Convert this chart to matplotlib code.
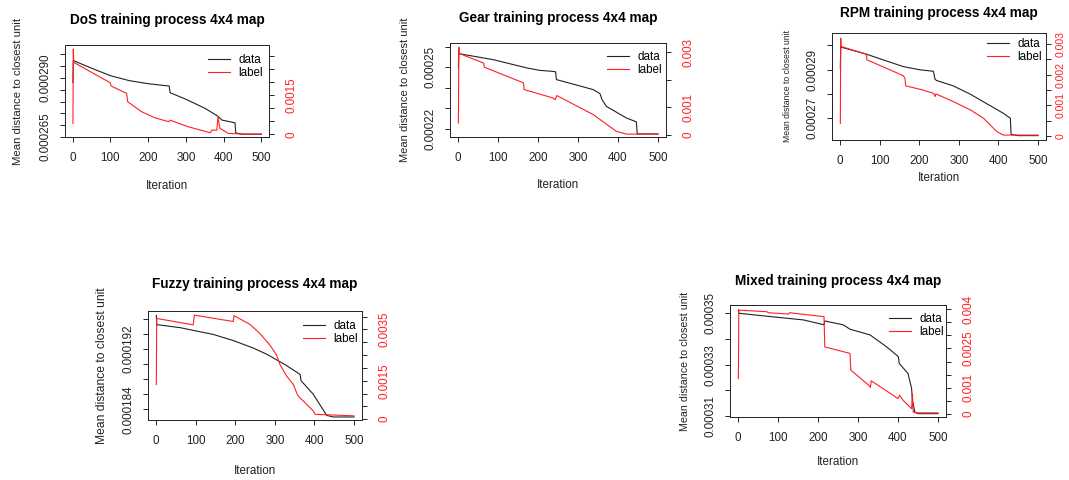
import matplotlib
matplotlib.use("Agg")
import matplotlib.pyplot as plt

plt.rcParams['font.family'] = ['Liberation Sans', 'DejaVu Sans']

W, H = 1069, 480

# ---------------- data ----------------
titles = ["DoS training process 4x4 map", "Gear training process 4x4 map",
          "RPM training process 4x4 map", "Fuzzy training process 4x4 map",
          "Mixed training process 4x4 map"]
legend_labels = ["data", "label"]
xlabel = "Iteration"
ylabel = "Mean distance to closest unit"
x_ticks = [0, 100, 200, 300, 400, 500]

# DoS
dos_data_it = [1, 2, 50, 100, 150, 200, 256, 258, 300, 350, 385, 395, 430, 432, 450, 500]
dos_data_val = [0.0002881, 0.0002974, 0.0002942, 0.0002910, 0.0002889, 0.0002876, 0.0002866,
                0.0002838, 0.0002810, 0.0002772, 0.0002738, 0.0002722, 0.0002710, 0.0002667,
                0.0002662, 0.0002662]
dos_label_it = [1, 2, 3, 100, 102, 143, 146, 183, 218, 255, 258, 306, 365, 368, 382, 385,
                390, 412, 450, 500]
dos_label_val = [0.00042, 0.00324, 0.00274, 0.00196, 0.00184, 0.00156, 0.00124, 0.00086,
                 0.00063, 0.00048, 0.00054, 0.00029, 0.00006, 0.00016, 0.00016, 0.00067,
                 0.00023, 0.00004, 0.00001, 0.00001]
dos_left_ticks = [0.000265, 0.000270, 0.000275, 0.000280, 0.000285, 0.000290, 0.000295, 0.000300]
dos_left_labels = ["0.000265", "", "", "", "", "0.000290", "", ""]
dos_right_ticks = [0, 0.0005, 0.001, 0.0015, 0.002, 0.0025, 0.003]
dos_right_labels = ["0", "", "", "0.0015", "", "", ""]

# Gear
gear_data_it = [1, 2, 89, 172, 205, 238, 244, 246, 338, 355, 360, 371, 421, 446, 448, 500]
gear_data_val = [0.0002497, 0.0002567, 0.0002537, 0.0002497, 0.0002485, 0.0002480, 0.0002478,
                 0.0002440, 0.0002391, 0.0002371, 0.0002342, 0.0002309, 0.0002252, 0.0002233,
                 0.0002174, 0.0002174]
gear_label_it = [1, 2, 3, 64, 66, 164, 165, 238, 243, 247, 338, 396, 421, 500]
gear_label_val = [0.00042, 0.00318, 0.00295, 0.00260, 0.00245, 0.00188, 0.00164, 0.00133,
                  0.00127, 0.00142, 0.00073, 0.00012, 0.00002, 0.00002]
gear_left_ticks = [0.00022, 0.00023, 0.00024, 0.00025, 0.00026]
gear_left_labels = ["0.00022", "", "", "0.00025", ""]
gear_right_ticks = [0, 0.001, 0.002, 0.003]
gear_right_labels = ["0", "0.001", "", "0.003"]

# RPM
rpm_data_it = [1, 2, 3, 67, 160, 202, 236, 240, 244, 286, 329, 413, 430, 432, 450, 500]
rpm_data_val = [0.0002905, 0.0002995, 0.0002992, 0.0002963, 0.0002912, 0.0002899, 0.0002893,
                0.0002860, 0.0002855, 0.0002833, 0.0002799, 0.0002720, 0.0002700, 0.0002634,
                0.0002629, 0.0002629]
rpm_label_it = [1, 2, 3, 67, 68, 160, 164, 166, 202, 236, 240, 242, 286, 329, 362, 396, 413, 500]
rpm_label_val = [0.00041, 0.00318, 0.00291, 0.00266, 0.00248, 0.00196, 0.00188, 0.00163,
                 0.00152, 0.00139, 0.00128, 0.00137, 0.00112, 0.00085, 0.00058, 0.00014,
                 0.00003, 0.00003]
rpm_left_ticks = [0.00027, 0.00028, 0.00029, 0.00030]
rpm_left_labels = ["0.00027", "", "0.00029", ""]
rpm_right_ticks = [0, 0.0005, 0.001, 0.0015, 0.002, 0.0025, 0.003]
rpm_right_labels = ["0", "", "0.001", "", "0.002", "", "0.003"]

# Fuzzy
fuzzy_data_it = [1, 2, 61, 98, 145, 195, 246, 279, 313, 326, 347, 364, 366, 380, 397, 414,
                 431, 448, 500]
fuzzy_data_val = [0.0001964, 0.0001952, 0.0001948, 0.0001944, 0.0001939, 0.0001931, 0.0001921,
                  0.0001913, 0.0001903, 0.0001899, 0.0001892, 0.0001886, 0.0001878, 0.0001870,
                  0.0001860, 0.0001846, 0.0001832, 0.0001830, 0.0001830]
fuzzy_label_it = [1, 2, 94, 97, 195, 197, 237, 262, 287, 304, 313, 330, 347, 355, 359, 372,
                  397, 402, 439, 500]
fuzzy_label_val = [0.00135, 0.00393, 0.00368, 0.00406, 0.00381, 0.00404, 0.00370, 0.00335,
                   0.00290, 0.00252, 0.00213, 0.00168, 0.00135, 0.00103, 0.00090, 0.00071,
                   0.00032, 0.00019, 0.00017, 0.00013]
fuzzy_left_ticks = [0.000184, 0.000186, 0.000188, 0.000190, 0.000192, 0.000194, 0.000196]
fuzzy_left_labels = ["0.000184", "", "", "", "0.000192", "", ""]
fuzzy_right_ticks = [0, 0.0005, 0.001, 0.0015, 0.002, 0.0025, 0.003, 0.0035, 0.004]
fuzzy_right_labels = ["0", "", "", "0.0015", "", "", "", "0.0035", ""]

# Mixed
mixed_data_it = [1, 2, 81, 164, 215, 217, 263, 280, 330, 371, 396, 401, 403, 425, 429, 434,
                 436, 442, 450, 500]
mixed_data_val = [0.0003513, 0.0003500, 0.0003487, 0.0003474, 0.0003455, 0.0003470, 0.0003455,
                  0.0003438, 0.0003416, 0.0003370, 0.0003338, 0.0003331, 0.0003305, 0.0003266,
                  0.0003240, 0.0003208, 0.0003162, 0.0003117, 0.0003110, 0.0003110]
mixed_label_it = [1, 2, 72, 76, 126, 129, 215, 217, 280, 282, 330, 331, 333, 400, 404, 413,
                  434, 436, 438, 446, 500]
mixed_label_val = [0.00135, 0.00397, 0.00391, 0.00387, 0.00382, 0.00387, 0.00372, 0.00256,
                   0.00231, 0.00167, 0.00105, 0.00100, 0.00126, 0.00058, 0.00071, 0.00051,
                   0.00019, 0.00077, 0.00006, 0.00003, 0.00003]
mixed_left_ticks = [0.00031, 0.00032, 0.00033, 0.00034, 0.00035]
mixed_left_labels = ["0.00031", "", "0.00033", "", "0.00035"]
mixed_right_ticks = [0, 0.0005, 0.001, 0.0015, 0.002, 0.0025, 0.003, 0.0035, 0.004]
mixed_right_labels = ["0", "", "0.001", "", "", "0.0025", "", "", "0.004"]

# ---------------- layout (pixels) ----------------
panels = [
    dict(title=titles[0], data=(dos_data_it, dos_data_val), label=(dos_label_it, dos_label_val),
         lt=(dos_left_ticks, dos_left_labels), rt=(dos_right_ticks, dos_right_labels),
         box=(65, 269, 45, 137), ylim_l=(0.000265, 0.000304), ylim_r=(-0.0001, 0.0034),
         title_y=20, xlab_y=186, ylab_x=18, ylab_fs=8.2, leg=(208, 54), rpad=8, rfs=8.4),
    dict(title=titles[1], data=(gear_data_it, gear_data_val), label=(gear_label_it, gear_label_val),
         lt=(gear_left_ticks, gear_left_labels), rt=(gear_right_ticks, gear_right_labels),
         box=(450, 666, 43, 137), ylim_l=(0.0002159, 0.0002619), ylim_r=(-0.000085, 0.00333),
         title_y=18, xlab_y=185, ylab_x=405, ylab_fs=8.0, leg=(607, 51), rpad=8, rfs=8.4),
    dict(title=titles[2], data=(rpm_data_it, rpm_data_val), label=(rpm_label_it, rpm_label_val),
         lt=(rpm_left_ticks, rpm_left_labels), rt=(rpm_right_ticks, rpm_right_labels),
         box=(832, 1046, 33, 140), ylim_l=(0.0002611, 0.000305), ylim_r=(-0.00013, 0.00335),
         title_y=13, xlab_y=178, ylab_x=788, ylab_fs=6.2, leg=(987, 38), rpad=3.5, rfs=7.6),
    dict(title=titles[3], data=(fuzzy_data_it, fuzzy_data_val), label=(fuzzy_label_it, fuzzy_label_val),
         lt=(fuzzy_left_ticks, fuzzy_left_labels), rt=(fuzzy_right_ticks, fuzzy_right_labels),
         box=(148, 362, 311, 420), ylim_l=(0.0001826, 0.000197), ylim_r=(-0.00003, 0.00422),
         title_y=284, xlab_y=471, ylab_x=102, ylab_fs=8.7, leg=(303, 320), rpad=8, rfs=8.4),
    dict(title=titles[4], data=(mixed_data_it, mixed_data_val), label=(mixed_label_it, mixed_label_val),
         lt=(mixed_left_ticks, mixed_left_labels), rt=(mixed_right_ticks, mixed_right_labels),
         box=(730, 946, 305, 417), ylim_l=(0.0003097, 0.0003532), ylim_r=(-0.000128, 0.004167),
         title_y=281, xlab_y=462, ylab_x=685, ylab_fs=7.7, leg=(889, 313), rpad=8, rfs=8.4),
]

fig = plt.figure(figsize=(W / 100, H / 100), dpi=100)
fig.patch.set_facecolor("white")

RED = "#ff2020"
FS = 8.4
TICKLEN = 3.6

for p in panels:
    x0, x1, y0, y1 = p["box"]
    ax = fig.add_axes([x0 / W, 1 - y1 / H, (x1 - x0) / W, (y1 - y0) / H])
    l1, = ax.plot(p["data"][0], p["data"][1], color="#222222", lw=0.8)
    ax.set_xlim(-20, 520)
    ax.set_ylim(*p["ylim_l"])
    ax.set_xticks(x_ticks)
    ax.set_xticklabels([str(t) for t in x_ticks], fontsize=FS, color="#222222")
    ax.set_yticks(p["lt"][0])
    ax.set_yticklabels(p["lt"][1], fontsize=FS, rotation=90, va="center", color="#222222")
    ax.tick_params(axis="both", direction="out", length=TICKLEN, width=0.7, color="#222222")
    ax.tick_params(axis="x", pad=7)
    ax.tick_params(axis="y", pad=6)
    for s in ax.spines.values():
        s.set_linewidth(0.7)
        s.set_color("#222222")

    ax2 = ax.twinx()
    l2, = ax2.plot(p["label"][0], p["label"][1], color=RED, lw=0.8)
    ax2.set_ylim(*p["ylim_r"])
    ax2.set_yticks(p["rt"][0])
    ax2.set_yticklabels(p["rt"][1], fontsize=p["rfs"], rotation=90, va="center", color=RED)
    ax2.tick_params(axis="y", direction="out", length=TICKLEN, width=0.7, color="#222222",
                    pad=p["rpad"])
    for s in ax2.spines.values():
        s.set_visible(False)

    cx = (x0 + x1) / 2
    fig.text(cx / W, 1 - p["title_y"] / H, p["title"], ha="center", va="center",
             fontsize=9.8, fontweight="bold")
    fig.text(cx / W, 1 - p["xlab_y"] / H, xlabel, ha="center", va="center", fontsize=FS,
             color="#222222")
    fig.text(p["ylab_x"] / W, 1 - ((y0 + y1) / 2) / H, ylabel, ha="center", va="center",
             rotation=90, fontsize=p["ylab_fs"], color="#222222")

    lx, ly = p["leg"]
    ax2.legend([l1, l2], legend_labels, loc="upper left",
               bbox_to_anchor=(lx / W, 1 - ly / H), bbox_transform=fig.transFigure,
               frameon=False, fontsize=FS, handlelength=1.85, handletextpad=0.75,
               labelspacing=0.1, borderpad=0, borderaxespad=0)

fig.savefig("out.png", dpi=100, facecolor="white")
